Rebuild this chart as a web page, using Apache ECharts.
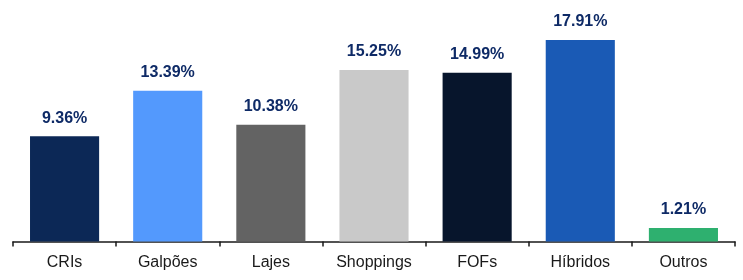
<!DOCTYPE html>
<html>
<head>
<meta charset="utf-8">
<script src="https://cdn.jsdelivr.net/npm/echarts@6/dist/echarts.min.js"></script>
<style>
html, body { margin: 0; padding: 0; background: #fff; }
#main { width: 743px; height: 280px; }
</style>
</head>
<body>
<div id="main"></div>
<script>
var categories = ['CRIs', 'Galpões', 'Lajes', 'Shoppings', 'FOFs', 'Híbridos', 'Outros'];
var values = [9.36, 13.39, 10.38, 15.25, 14.99, 17.91, 1.21];
var barColors = ['#0c2856', '#5399fd', '#636363', '#c9c9c9', '#07152c', '#1a5ab5', '#2eb06f'];

var myChart = echarts.init(document.getElementById('main'));
var option = {
    animation: false,
    textStyle: { fontFamily: '"Liberation Sans", Arial, sans-serif' },
    grid: { left: 13, right: 8, top: 39, bottom: 38.5 },
    xAxis: {
        type: 'category',
        data: categories,
        axisLine: { lineStyle: { color: '#1a1a1a', width: 1.5 } },
        axisTick: { show: true, length: 5, lineStyle: { color: '#1a1a1a', width: 1.5 } },
        axisLabel: { color: '#1a1a1a', fontSize: 16, margin: 13 }
    },
    yAxis: {
        type: 'value',
        min: 0,
        max: 18,
        show: false,
        splitLine: { show: false }
    },
    series: [{
        type: 'bar',
        barWidth: '67%',
        data: values.map(function (v, i) {
            return { value: v, itemStyle: { color: barColors[i] } };
        }),
        label: {
            show: true,
            position: 'top',
            distance: 10,
            color: '#0e2a66',
            fontSize: 16,
            fontWeight: 'bold',
            formatter: function (p) { return p.value.toFixed(2) + '%'; }
        }
    }]
};
myChart.setOption(option);
window.onresize = function () { myChart.resize(); };
</script>
</body>
</html>
